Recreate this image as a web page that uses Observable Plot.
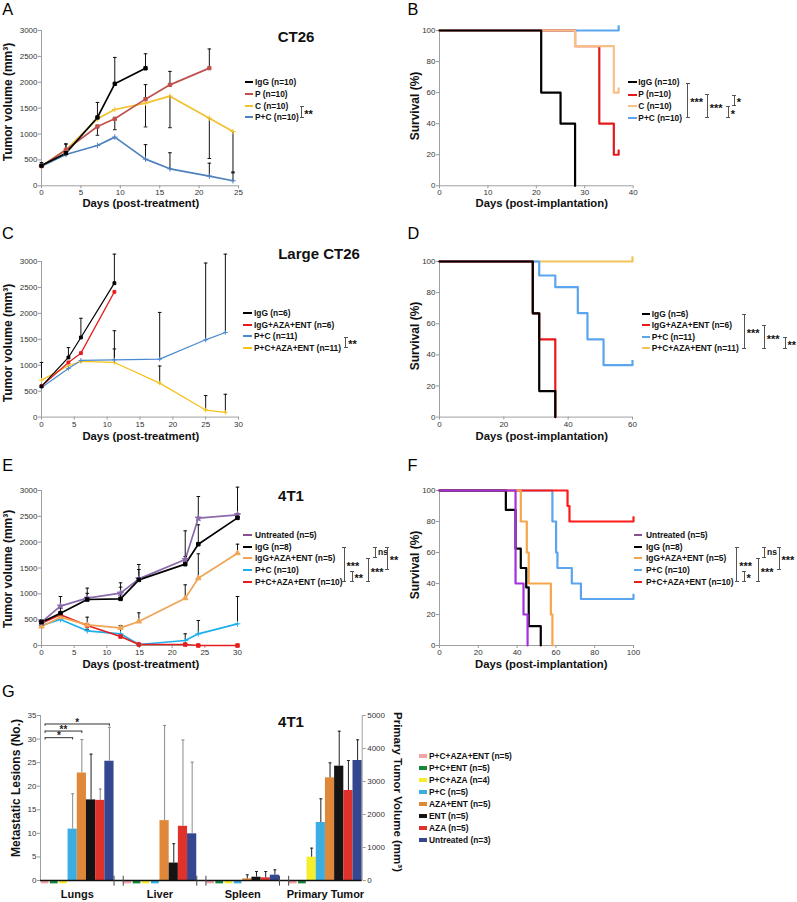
<!DOCTYPE html>
<html><head><meta charset="utf-8">
<script src="https://cdn.jsdelivr.net/npm/d3@7"></script>
<script src="https://cdn.jsdelivr.net/npm/@observablehq/plot@0.6"></script>
<style>
html,body{margin:0;padding:0;background:#fff;}
#fig{position:relative;width:797px;height:902px;overflow:hidden;font-family:"Liberation Sans",Arial,sans-serif;}
.abs{position:absolute;white-space:nowrap;}
</style></head><body><div id="fig"></div>
<script>
// ---------------- DATA ----------------
// Panel A (CT26 tumour volume)
const A_names = ["IgG (n=10)", "P (n=10)", "C (n=10)", "P+C (n=10)"];
const A_colors = ["#000000", "#c0504d", "#f2c12e", "#4f81bd"];
const A_days = [
  [0, 3.1, 7.1, 9.3, 13.2],
  [0, 3.1, 7.1, 9.3, 13.2, 16.3, 21.3],
  [0, 3.1, 7.1, 9.3, 13.2, 16.3, 21.3, 24.3],
  [0, 3.1, 7.1, 9.3, 13.2, 16.3, 21.3, 24.3]];
const A_vol = [
  [390, 630, 1320, 1970, 2270],
  [380, 695, 1146, 1294, 1674, 1950, 2273],
  [380, 690, 1294, 1474, 1597, 1732, 1307, 1049],
  [380, 605, 779, 940, 515, 328, 187, 97]];
const A_err = [
  [60, 180, 290, 510, 280],
  [0, 110, -170, -210, 280, 260, 370],
  [0, 0, 0, 0, -460, -610, -780, -800],
  [0, 0, 0, 0, 280, 310, 250, 170]];

// Panel B (CT26 survival)
const B_colors = ["#000000", "#e31a1c", "#f7c08a", "#5aa5ee"];
const B_time = [[0, 21, 25, 28], [0, 28, 33, 36, 37], [0, 28, 36, 37], [0, 37]];
const B_surv = [[100, 60, 40, 0], [100, 90, 40, 20, 20], [100, 90, 60, 60], [100, 100]];

// Panel C (Large CT26 tumour volume)
const C_names = ["IgG (n=6)", "IgG+AZA+ENT (n=6)", "P+C (n=11)", "P+C+AZA+ENT (n=11)"];
const C_colors = ["#000000", "#e8191b", "#4a8ad0", "#f5c21b"];
const C_days = [[0, 4.1, 6, 11.1], [0, 4.1, 6, 11.1], [0, 4.1, 6, 11.1, 18, 25, 28], [0, 4.1, 6, 11.1, 18, 25, 28]];
const C_vol = [
  [591, 1150, 1535, 2582],
  [600, 1054, 1233, 2415],
  [572, 938, 1092, 1105, 1118, 1490, 1632],
  [713, 989, 1073, 1054, 655, 135, 90]];
const C_err = [
  [0, 190, 370, 560],
  [0, 0, 0, 0],
  [0, 0, 0, 560, 900, 1480, 1510],
  [340, 0, 0, 260, 330, 280, 350]];

// Panel D (Large CT26 survival)
const D_colors = ["#000000", "#e8191b", "#5aa5ee", "#f2c35c"];
const D_time = [[0, 29, 31, 36], [0, 29, 31, 36], [0, 31, 36, 43, 46, 51, 60], [0, 60]];
const D_surv = [[100, 66.7, 16.7, 0], [100, 66.7, 50, 0], [100, 91, 83.5, 66.8, 50, 33.4, 33.4], [100, 100]];

// Panel E (4T1 tumour volume)
const E_names = ["Untreated (n=5)", "IgG (n=8)", "IgG+AZA+ENT (n=5)", "P+C (n=10)", "P+C+AZA+ENT (n=10)"];
const E_colors = ["#8a6aac", "#000000", "#f0a456", "#1fb0ea", "#e4201e"];
const E_days = [0, 2.9, 7, 12.1, 14.9, 22, 24, 30];
const E_vol = [
  [452, 761, 916, 1013, 1290, 1665, 2465, 2529],
  [452, 626, 890, 903, 1271, 1574, 1961, 2471],
  [368, 548, 400, 342, 465, 916, 1303, 1787],
  [387, 503, 284, 226, 19, 97, 226, 419],
  [432, 594, 387, 174, 19, 19, 0, 0]];
const E_err = [
  [40, 187, 194, 200, 278, 554, 419, 536],
  [40, 100, 120, 226, 200, 150, 375, 80],
  [30, 60, 148, 40, 167, 258, 471, 174],
  [20, 40, 30, 161, 0, 129, 258, 529],
  [0, 0, 0, 0, 0, 0, 0, 0]];

// Panel F (4T1 survival)
const F_colors = ["#a431e0", "#000000", "#f7a54a", "#5aa5ee", "#ff1a1a"];
const F_time = [[0, 39.2, 43.3, 45.4], [0, 34.2, 39.2, 41.9, 44.7, 46, 52.2], [0, 41.9, 45, 46, 57.4, 58.2], [0, 58.2, 60.1, 60.8, 68.2, 72.9, 100], [0, 66, 67, 100]];
const F_surv = [[100, 40, 20, 0], [100, 87.5, 62.5, 50, 37.5, 12.5, 0], [100, 80, 60, 40, 20, 0], [100, 80, 60, 50, 40, 30, 30], [100, 90, 80, 80]];

// Panel G (4T1 metastases / primary tumour)
const G_categories = ["Lungs", "Liver", "Spleen", "Primary Tumor"];
const G_groups = ["P+C+AZA+ENT (n=5)", "P+C+ENT (n=5)", "P+C+AZA (n=4)", "P+C (n=5)", "AZA+ENT (n=5)", "ENT (n=5)", "AZA (n=5)", "Untreated (n=3)"];
const G_colors = ["#f2a2aa", "#14893c", "#f5ee2a", "#3aaee2", "#e0883a", "#141414", "#e0322a", "#34478f"];
const G_lungs = [0, 0, 0, 10.9, 22.8, 17.1, 17.0, 25.3];
const G_lungsErr = [0, 0, 0, 7.5, 7.1, 9.7, 2.4, 7.2];
const G_liver = [0, 0, 0, 0, 12.7, 3.7, 11.5, 9.9];
const G_liverErr = [0, 0, 0, 0, 20.2, 4.1, 18.3, 15.2];
const G_spleen = [0, 0, 0, 0, 0.35, 0.7, 0.57, 1.13];
const G_spleenErr = [0, 0, 0, 0, 0.85, 1.2, 1.33, 1.13];
const G_primary = [0, 0, 707, 1757, 3111, 3465, 2727, 3636];      // mm3, right axis
const G_primaryErr = [0, 0, 273, 718, 454, 1060, 909, 626];
const G_sig = [{a: 0, b: 3, y: 30.3, label: "*"}, {a: 0, b: 4, y: 31.7, label: "**"}, {a: 0, b: 7, y: 33.2, label: "*"}];

// ---------------- HELPERS ----------------
const FONT = '"Liberation Sans", Arial, sans-serif';
const fig = document.getElementById("fig");
const cap = {draw(ctx, size) { const w = Math.sqrt(size / Math.PI); ctx.moveTo(-w, 0); ctx.lineTo(w, 0); }};

function txt(str, x, y, {size = 11, weight = "bold", anchor = "start", color = "#111", rotate = 0} = {}) {
  const d = document.createElement("div");
  d.className = "abs";
  d.textContent = str;
  d.style.fontSize = size + "px";
  d.style.fontWeight = weight;
  d.style.color = color;
  d.style.lineHeight = "1";
  if (rotate) {
    const cx = rotate < 0 ? x - 0.3465 * size : x + 0.3465 * size;
    d.style.left = cx + "px";
    d.style.top = y + "px";
    d.style.transform = `translate(-50%,-50%) rotate(${rotate}deg)`;
  } else {
    d.style.left = x + "px";
    d.style.top = (y - 0.8465 * size) + "px";
    if (anchor === "middle") d.style.transform = "translateX(-50%)";
    else if (anchor === "end") d.style.transform = "translateX(-100%)";
  }
  fig.appendChild(d);
}
function box(x, y, w, h, bg) {
  const d = document.createElement("div");
  d.className = "abs";
  Object.assign(d.style, {left: x + "px", top: y + "px", width: w + "px", height: h + "px", background: bg});
  fig.appendChild(d);
  return d;
}
function legend(names, colors, {sx, sw, sh = 2, tx, rows, size = 8.4}) {
  names.forEach((n, i) => {
    box(sx, rows[i] - sh / 2, sw, sh, colors[i]);
    txt(n, tx, rows[i] + 0.36 * size, {size});
  });
}
function bracket(x, y1, y2, label) {
  const d = box(x - 2, y1, 4, y2 - y1, "transparent");
  d.style.boxSizing = "border-box";
  d.style.borderTop = "1px solid #555";
  d.style.borderBottom = "1px solid #555";
  const v = document.createElement("div");
  Object.assign(v.style, {position: "absolute", left: "1.5px", top: "0", width: "1px", height: "100%", background: "#555"});
  d.appendChild(v);
  const mid = (y1 + y2) / 2;
  if (label === "ns") txt(label, x + 3, mid + 2.4, {size: 8.5});
  else txt(label, x + 2.5, mid + 6.2, {size: 11, weight: "bold"});
}
function place(svg, left, top) {
  svg.style.position = "absolute";
  svg.style.left = left + "px";
  svg.style.top = top + "px";
  svg.style.overflow = "visible";
  fig.appendChild(svg);
}
function frameMarks(xDomain, yDomain, xTicks, yTicks) {
  return [
    Plot.ruleY([yDomain[0]], {stroke: "#a0a0a0", strokeWidth: 1}),
    Plot.ruleX([xDomain[0]], {stroke: "#a0a0a0", strokeWidth: 1}),
    Plot.axisX({ticks: xTicks, tickSize: 3, tickPadding: 1, tickFormat: "d", label: null, stroke: "#999", fill: "#333", fontSize: 8}),
    Plot.axisY({ticks: yTicks, tickSize: 3, tickPadding: 1, tickFormat: "d", label: null, stroke: "#999", fill: "#333", fontSize: 8})
  ];
}
function basePlot(bx, xDomain, yDomain, marks, m = {}) {
  const [x0, x1, y0, y1] = bx;
  const mL = m.l ?? 40, mR = m.r ?? 8, mT = m.t ?? 8, mB = m.b ?? 16;
  const svg = Plot.plot({
    width: x1 - x0 + mL + mR, height: y1 - y0 + mT + mB,
    marginLeft: mL, marginRight: mR, marginTop: mT, marginBottom: mB,
    x: {domain: xDomain}, y: {domain: yDomain}, color: {type: "identity"},
    style: {fontFamily: FONT, fontSize: "8px", background: "transparent", overflow: "visible"},
    marks
  });
  place(svg, x0 - mL, y0 - mT);
}
function seriesPanel({bx, xDomain, xTicks, yDomain, yTicks, colors, days, vols, errs, symbols, order, sw = 1.6, r = 1.9}) {
  const marks = frameMarks(xDomain, yDomain, xTicks, yTicks);
  const tables = vols.map((vs, i) => vs.map((v, j) => {
    const dd = Array.isArray(days[0]) ? days[i] : days;
    return {day: dd[j], vol: v, err: errs[i][j], top: v + errs[i][j]};
  }));
  for (const i of order) marks.push(Plot.line(tables[i], {x: "day", y: "vol", stroke: colors[i], strokeWidth: sw}));
  for (const i of order) {
    const eb = tables[i].filter(d => d.err !== 0);
    marks.push(Plot.ruleX(eb, {x: "day", y1: "vol", y2: "top", stroke: "#111", strokeWidth: 1}));
    marks.push(Plot.dot(eb, {x: "day", y: "top", symbol: cap, r: 1.8, stroke: "#111", fill: "none", strokeWidth: 1}));
  }
  for (const i of order) marks.push(Plot.dot(tables[i], {x: "day", y: "vol", symbol: symbols[i], r, fill: colors[i], stroke: colors[i], strokeWidth: 1}));
  basePlot(bx, xDomain, yDomain, marks);
}
function kmPanel({bx, xDomain, xTicks, colors, times, surv, order, sw = 2.2}) {
  const marks = frameMarks(xDomain, [0, 100], xTicks, [0, 20, 40, 60, 80, 100]);
  for (const i of order) {
    const rows = times[i].map((t, j) => ({t, s: surv[i][j]}));
    marks.push(Plot.line(rows, {x: "t", y: "s", curve: "step-after", stroke: colors[i], strokeWidth: sw}));
    const last = rows[rows.length - 1];
    if (last.s > 0) marks.push(Plot.ruleX([last], {x: "t", y1: "s", y2: d => d.s + 3, stroke: colors[i], strokeWidth: sw}));
  }
  basePlot(bx, xDomain, [0, 100], marks);
}

// ---------------- PANELS ----------------
const vTicks = [0, 500, 1000, 1500, 2000, 2500, 3000];

// A
seriesPanel({bx: [40.7, 237.7, 30, 185.3], xDomain: [0, 25], xTicks: [0, 5, 10, 15, 20, 25], yDomain: [0, 3000], yTicks: vTicks,
  colors: A_colors, days: A_days, vols: A_vol, errs: A_err, symbols: ["square", "square", "plus", "plus"], order: [3, 2, 1, 0], sw: 1.7});
// B
kmPanel({bx: [439, 632.7, 30, 185.3], xDomain: [0, 40], xTicks: [0, 10, 20, 30, 40], colors: B_colors, times: B_time, surv: B_surv, order: [3, 1, 2, 0]});
// C
seriesPanel({bx: [40.7, 237.7, 260.7, 416.3], xDomain: [0, 30], xTicks: [0, 5, 10, 15, 20, 25, 30], yDomain: [0, 3000], yTicks: vTicks,
  colors: C_colors, days: C_days, vols: C_vol, errs: C_err, symbols: ["square", "square", "plus", "plus"], order: [3, 2, 1, 0], sw: 1.2, r: 1.6});
// D
kmPanel({bx: [439, 632, 260.7, 416.3], xDomain: [0, 60], xTicks: [0, 20, 40, 60], colors: D_colors, times: D_time, surv: D_surv, order: [3, 2, 1, 0]});
// E
seriesPanel({bx: [40.7, 236.7, 490, 645], xDomain: [0, 30], xTicks: [0, 5, 10, 15, 20, 25, 30], yDomain: [0, 3000], yTicks: vTicks,
  colors: E_colors, days: E_days, vols: E_vol, errs: E_err, symbols: ["star", "square", "triangle", "plus", "square"], order: [3, 4, 2, 0, 1], sw: 1.7, r: 2});
// F
kmPanel({bx: [438.7, 632.7, 490, 645], xDomain: [0, 100], xTicks: [0, 20, 40, 60, 80, 100], colors: F_colors, times: F_time, surv: F_surv, order: [3, 4, 2, 1, 0]});

// G
(function () {
  const scaleR = 35 / 5000;
  const vals = [G_lungs, G_liver, G_spleen, G_primary];
  const errs = [G_lungsErr, G_liverErr, G_spleenErr, G_primaryErr];
  const rows = [];
  G_categories.forEach((c, ci) => G_groups.forEach((g, gi) => {
    const k = ci === 3 ? scaleR : 1;
    rows.push({ci, gi, slot: ci * 9 + gi, v: vals[ci][gi] * k, e: errs[ci][gi] * k, color: G_colors[gi],
      ecolor: (gi === 5 || ci >= 2) ? "#222" : "#8a8a8a"});
  }));
  const bounds = [];
  G_categories.forEach((c, ci) => { bounds.push(ci * 9, ci * 9 + 8); });
  const inner = bounds.filter(b => b > 0 && b < 35);
  const eb = rows.filter(d => d.e > 0);
  const marks = [
    Plot.rect(rows.filter(d => d.v > 0), {x1: "slot", x2: d => d.slot + 1, y1: 0, y2: "v", fill: "color"}),
    Plot.rect(rows.filter(d => d.v === 0), {x1: d => d.slot + 0.08, x2: d => d.slot + 0.92, y1: -0.72, y2: 0, fill: "color"}),
    Plot.ruleX(eb, {x: d => d.slot + 0.5, y1: "v", y2: d => d.v + d.e, stroke: "ecolor", strokeWidth: 1}),
    Plot.dot(eb, {x: d => d.slot + 0.5, y: d => d.v + d.e, symbol: cap, r: 1.5, stroke: "ecolor", fill: "none", strokeWidth: 1}),
    Plot.ruleX([0], {stroke: "#a0a0a0"}),
    Plot.ruleX([35], {stroke: "#a0a0a0"}),
    Plot.ruleY([0], {stroke: "#111", strokeWidth: 1.4}),
    Plot.ruleX(inner, {y1: -1.2, y2: 0.9, stroke: "#444", strokeWidth: 1}),
    Plot.axisY({ticks: [0, 5, 10, 15, 20, 25, 30, 35], tickSize: 3, tickPadding: 1, tickFormat: "d", label: null, stroke: "#999", fill: "#333", fontSize: 8}),
    Plot.axisY({anchor: "right", ticks: [0, 7, 14, 21, 28, 35], tickSize: 3, tickPadding: 2, tickFormat: d => String(Math.round(d / scaleR)), label: null, stroke: "#999", fill: "#333", fontSize: 8}),
    Plot.axisX({ticks: [4, 13, 22, 31], tickFormat: d => G_categories[Math.round((d - 4) / 9)], tickSize: 0, tickPadding: 10, label: null, fill: "#111", fontSize: 11, fontWeight: "bold"}),
    Plot.link(G_sig, {x1: d => d.a + 0.5, x2: d => d.b + 0.5, y1: "y", y2: "y", stroke: "#333", strokeWidth: 1}),
    Plot.ruleX(G_sig, {x: d => d.a + 0.5, y1: d => d.y - 0.5, y2: "y", stroke: "#333"}),
    Plot.ruleX(G_sig, {x: d => d.b + 0.5, y1: d => d.y - 0.5, y2: "y", stroke: "#333"}),
    Plot.text(G_sig, {x: d => (d.a + d.b + 1) / 2, y: "y", text: "label", dy: -1.4, fontSize: 10, fontWeight: "bold", fill: "#222"})
  ];
  basePlot([40, 361.7, 715, 880], [0, 35], [0, 35], marks, {l: 40, r: 38.3, t: 15, b: 22});
})();

// ---------------- TEXT, LEGENDS, ANNOTATIONS ----------------
const letter = {size: 16.3, weight: "normal", color: "#000"};
txt("A", 2.3, 15, letter); txt("B", 407.5, 15, letter);
txt("C", 2, 239, letter); txt("D", 407.5, 239, letter);
txt("E", 2.3, 471, letter); txt("F", 407.5, 471, letter);
txt("G", 2, 696.7, letter);

txt("CT26", 296, 41.7, {size: 15, anchor: "middle"});
txt("Large CT26", 319, 259, {size: 15, anchor: "middle"});
txt("4T1", 291, 501, {size: 15, anchor: "middle"});
txt("4T1", 291, 727, {size: 15, anchor: "middle"});

const xt = {size: 11.3, anchor: "middle"};
txt("Days (post-treatment)", 140.8, 208, xt);
txt("Days (post-implantation)", 541.7, 208, xt);
txt("Days (post-treatment)", 140.8, 440.5, xt);
txt("Days (post-implantation)", 541.7, 440.5, xt);
txt("Days (post-treatment)", 140.8, 669, xt);
txt("Days (post-implantation)", 541.3, 669, xt);

const yt = {size: 12, rotate: -90};
txt("Tumor volume (mm³)", 12.6, 102, yt);
txt("Survival (%)", 419.3, 106, yt);
txt("Tumor volume (mm³)", 12.6, 342.5, yt);
txt("Survival (%)", 419.3, 336, yt);
txt("Tumor volume (mm³)", 12.6, 569, yt);
txt("Survival (%)", 419.3, 564.7, yt);
txt("Metastatic Lesions (No.)", 20.3, 787.5, yt);
txt("Primary Tumor Volume (mm³)", 393.4, 792, {size: 11.5, rotate: 90});

legend(A_names, A_colors, {sx: 245, sw: 8, tx: 255, rows: [81.7, 93.7, 105.7, 117.3]});
legend(A_names, B_colors, {sx: 628.3, sw: 8.4, tx: 638.3, rows: [82.3, 94.5, 106.3, 117.7]});
legend(C_names, C_colors, {sx: 243, sw: 8.7, tx: 254, rows: [313.3, 324.8, 336.3, 347.8]});
legend(C_names, D_colors, {sx: 641.7, sw: 8.3, tx: 651.7, rows: [313.7, 325.2, 336.7, 348.3]});
legend(E_names, ["#8b4f8f", "#000000", "#f0a456", "#1fb0ea", "#e4201e"], {sx: 243.3, sw: 8.4, tx: 255, rows: [535, 546.7, 558.3, 570, 581.7]});
legend(E_names, ["#8b4f8f", "#000000", "#f7a54a", "#5aa5ee", "#e4201e"], {sx: 634.3, sw: 7.4, tx: 646, rows: [535, 546.7, 558.3, 570, 581.7]});
legend(G_groups, G_colors, {sx: 419, sw: 7.7, sh: 3.6, tx: 429, rows: G_groups.map((g, i) => 756 + i * 12)});

bracket(301.7, 106, 117.7, "**");
bracket(687.7, 82.7, 117.7, "***"); bracket(707.3, 94, 117.7, "***"); bracket(728.3, 106, 117.7, "*"); bracket(734.3, 94.7, 106, "*");
bracket(345.7, 336.7, 348.3, "**");
bracket(744.3, 313.7, 349, "***"); bracket(764.3, 325, 349, "***"); bracket(785, 337.3, 349, "**");
bracket(344, 546.7, 581.7, "***"); bracket(352, 570.7, 581.7, "**"); bracket(368.3, 558.3, 581.7, "***"); bracket(375, 546.7, 558.3, "ns"); bracket(387.3, 546.7, 570, "**");
bracket(736.7, 546.7, 581.7, "***"); bracket(744, 570.7, 581.7, "*"); bracket(758.3, 558.3, 581.7, "***"); bracket(764, 546.7, 558.3, "ns"); bracket(779, 546.7, 570, "***");
</script></body></html>
